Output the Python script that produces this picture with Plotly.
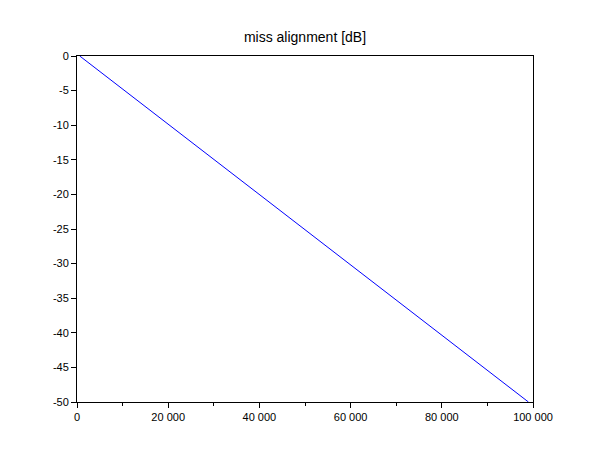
import plotly.graph_objects as go

# data
x_values = [600, 99000]
y_values = [0, -50]
x_tickvals = [0, 20000, 40000, 60000, 80000, 100000]
x_ticktext = ["0", "20 000", "40 000", "60 000", "80 000", "100 000"]
y_tickvals = [0, -5, -10, -15, -20, -25, -30, -35, -40, -45, -50]
y_ticktext = ["0", "-5", "-10", "-15", "-20", "-25", "-30", "-35", "-40", "-45", "-50"]
title_text = "miss alignment [dB]"

W, H = 602, 452
fig = go.Figure()
fig.add_trace(go.Scatter(x=x_values, y=y_values, mode="lines",
                         line=dict(color="#0000ff", width=1), showlegend=False))

fig.update_layout(
    width=W, height=H,
    margin=dict(l=69, r=77, t=48, b=58),
    paper_bgcolor="white", plot_bgcolor="white",
    font=dict(family="Liberation Sans, Arial, sans-serif", size=11, color="black"),
    title=dict(text=title_text, x=(69 + 228) / W, xanchor="center", y=1 - 29 / H, yanchor="middle",
               font=dict(size=14, color="black")),
)
fig.update_xaxes(range=[0, 100000], tickvals=x_tickvals, ticktext=x_ticktext,
                 ticks="outside", ticklen=5, tickwidth=1, tickcolor="black",
                 showline=True, linecolor="black", linewidth=1, mirror=True,
                 showgrid=False, zeroline=False,
                 minor=dict(dtick=10000, ticks="outside", ticklen=3, tickcolor="black", showgrid=False))
fig.update_yaxes(range=[-50, 0], tickvals=y_tickvals, ticktext=y_ticktext,
                 ticks="outside", ticklen=5, tickwidth=1, tickcolor="black",
                 showline=True, linecolor="black", linewidth=1, mirror=True,
                 showgrid=False, zeroline=False)

fig.write_html("out.html")
